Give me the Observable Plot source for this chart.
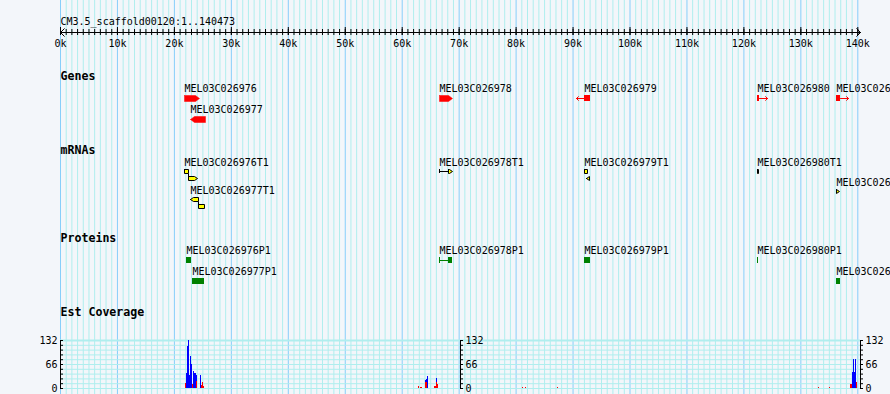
<!DOCTYPE html>
<html>
<head>
<meta charset="utf-8">
<script src="https://cdn.jsdelivr.net/npm/d3@7"></script>
<script src="https://cdn.jsdelivr.net/npm/@observablehq/plot@0.6"></script>
<style>
html, body { margin: 0; padding: 0; background: #F3F6FA; }
#chart { position: relative; width: 890px; height: 394px; overflow: hidden; background: #F3F6FA; }
#chart svg { position: absolute; left: 0; top: 0; }
</style>
</head>
<body>
<div id="chart"></div>
<script>
// ---------------- data ----------------
const seqName = "CM3.5_scaffold00120:1..140473";
const seqLength = 140473;
const rulerTicks = [0, 10000, 20000, 30000, 40000, 50000, 60000, 70000, 80000, 90000, 100000, 110000, 120000, 130000, 140000];
const rulerLabels = ["0k", "10k", "20k", "30k", "40k", "50k", "60k", "70k", "80k", "90k", "100k", "110k", "120k", "130k", "140k"];
const trackNames = ["Genes", "mRNAs", "Proteins", "Est Coverage"];

// Genes (last name is shown cut at the image edge)
const geneNames = ["MEL03C026976", "MEL03C026977", "MEL03C026978", "MEL03C026979", "MEL03C026980", "MEL03C026"];
const geneStart = [21773, 22827, 66549, 92009, 122386, 136258];
const geneEnd   = [24407, 25461, 68831, 93063, 122737, 136960];
const geneStrand = [1, -1, 1, -1, 1, 1];
const geneRow = [0, 1, 0, 0, 0, 0];

// mRNAs
const mrnaNames = ["MEL03C026976T1", "MEL03C026977T1", "MEL03C026978T1", "MEL03C026979T1", "MEL03C026980T1", "MEL03C026"];
const mrnaStart = [21773, 22827, 66549, 92009, 122386, 136258];
const mrnaStrand = [1, -1, 1, -1, 1, 1];
const mrnaRow = [0, 2, 0, 0, 0, 1];
const exonMrna  = [0, 0, 1, 1, 2, 3, 3, 4, 5];
const exonStart = [21773, 22476, 22827, 24232, 68129, 92009, 92360, 122386, 136258];
const exonEnd   = [22476, 24056, 24232, 25285, 68831, 92536, 92887, 122562, 136785];
const exonLevel = [0, 1, 0, 1, 0, 0, 1, 0, 0];
const exonArrow = [0, 1, 1, 0, 1, 0, 1, 0, 1];
const utrMrna = [2];
const utrStart = [66549];
const utrEnd = [68129];

// Proteins
const protNames = ["MEL03C026976P1", "MEL03C026977P1", "MEL03C026978P1", "MEL03C026979P1", "MEL03C026980P1", "MEL03C026"];
const protStart    = [22124, 23178, 66549, 92009, 122386, 136258];
const protBoxStart = [22124, 23178, 68129, 92009, 122386, 136258];
const protEnd      = [23002, 25285, 68831, 93063, 122562, 136960];
const protRow = [0, 1, 0, 0, 0, 1];

// Est coverage (bins)
const estBin = 176;
const estBinStart = [21949, 22124, 22300, 22476, 22651, 22827, 23002, 23178, 23353, 23529, 23705, 23880, 24583, 24758, 24934, 25109, 62861, 63212, 63388, 64090, 64266, 64441, 65671, 65846, 66022, 66197, 81123, 81649, 87268, 133097, 135029, 138716, 138892, 139067, 139243, 139418, 139594, 139770];
const estBlue = [0, 40, 116, 132, 36, 88, 66, 10, 46, 42, 42, 36, 36, 0, 0, 0, 0, 0, 0, 22, 25, 33, 0, 0, 28, 0, 0, 0, 0, 0, 0, 0, 0, 45, 80, 45, 80, 0];
const estRed  = [14, 0, 0, 0, 0, 0, 0, 12, 0, 0, 0, 18, 0, 8, 16, 5, 5, 3, 3, 16, 16, 0, 5, 5, 16, 10, 3, 3, 3, 3, 3, 11, 11, 0, 0, 0, 0, 16];
const covMax = 132;
const covLabels = [0, 66, 132];

// ---------------- layout & style ----------------
const W = 890, H = 394;
const xRange = [60, 860];
const bpPerPx = seqLength / (xRange[1] - xRange[0]);
const L = {
  titleY: 21, rulerY: 32, minorTick: [29, 35], majorTick: [27, 35], rulerLabelY: 43,
  trackLabelY: [76, 150, 238, 312]
};
const G = {labelY: [88, 109], dy: 7, h: 6, tip: 4, arrowPx: 8, minBodyPx: 8};
const M = {labelY: [162, 182, 190], dy: 7, levelDy: 7, h: 4, tip: 3};
const P = {labelY: [250, 271], dy: 7, h: 6};
const covRange = [388, 340];
const C = {
  bg: "#F3F6FA", minor: "#AFEEEE", major: "#87CEFA", red: "#FF0000",
  yellow: "#FFFF00", green: "#008000", blue: "#0000FF"
};
const font = "'DejaVu Sans Mono', monospace";

function boxPoly(s, e, top, h, strand, pointed, tipPx) {
  const tip = Math.min(tipPx * bpPerPx, (e - s));
  const bot = top + h, mid = top + h / 2;
  if (!pointed) return [[s, top], [e, top], [e, bot], [s, bot], [s, top]];
  if (strand > 0) return [[s, top], [e - tip, top], [e, mid], [e - tip, bot], [s, bot], [s, top]];
  return [[s, mid], [s + tip, top], [e, top], [e, bot], [s + tip, bot], [s, mid]];
}

// genes
const genes = geneNames.map((name, i) => {
  const labelY = G.labelY[geneRow[i]], top = labelY + G.dy;
  return {name, start: geneStart[i], end: geneEnd[i], strand: geneStrand[i], labelY, top, mid: top + G.h / 2, bot: top + G.h,
          px: (geneEnd[i] - geneStart[i]) / bpPerPx};
});
const bigGenes = genes.filter(g => g.px >= G.minBodyPx);
const smallGenes = genes.filter(g => g.px < G.minBodyPx);
const genePolys = bigGenes.flatMap(g => boxPoly(g.start, g.end, g.top, G.h, g.strand, true, G.tip).map(([x, y]) => ({id: g.name, x, y})));

// mRNAs
const mrnas = mrnaNames.map((name, i) => ({name, start: mrnaStart[i], strand: mrnaStrand[i], labelY: M.labelY[mrnaRow[i]]}));
const exons = exonMrna.map((m, i) => {
  const t = mrnas[m];
  const top = t.labelY + M.dy + exonLevel[i] * M.levelDy;
  return {m, id: i, start: exonStart[i], end: exonEnd[i], top, bot: top + M.h, strand: t.strand, pointed: exonArrow[i] === 1};
});
const exonPolys = exons.flatMap(e => boxPoly(e.start, e.end, e.top, M.h, e.strand, e.pointed, M.tip).map(([x, y]) => ({id: e.id, x, y})));
const connectors = [];
for (let i = 1; i < exons.length; i++) {
  if (exons[i].m === exons[i - 1].m && exons[i].start >= exons[i - 1].end) {
    connectors.push({x1: exons[i - 1].end, y1: exons[i - 1].bot, x2: exons[i].start, y2: exons[i].top});
  }
}
const utrs = utrMrna.map((m, i) => {
  const top = mrnas[m].labelY + M.dy;
  return {start: utrStart[i], end: utrEnd[i], top, bot: top + M.h, mid: top + M.h / 2};
});

// proteins
const prots = protNames.map((name, i) => {
  const labelY = P.labelY[protRow[i]], top = labelY + P.dy;
  return {name, start: protStart[i], boxStart: protBoxStart[i], end: protEnd[i], labelY, top, bot: top + P.h, mid: top + P.h / 2};
});
const protLines = prots.filter(p => p.boxStart > p.start);

// coverage
const est = estBinStart.map((s, i) => ({start: s, end: s + estBin, blue: estBlue[i], red: estRed[i]}));
const covGrid = d3.range(0, 11).map(k => k * covMax / 10);
const covAxes = [0, seqLength / 2, seqLength];
const covTicks = covAxes.flatMap((pos, a) => covGrid.map(v => ({pos, v, a})));
const covLabelRows = covAxes.flatMap((pos, a) => covLabels.map(v => ({pos, v, a})));

const minorGrid = d3.range(0, 140001, 1000).filter(d => d % 10000 !== 0);

// ---------------- main plot ----------------
const main = Plot.plot({
  width: W, height: H, margin: 0,
  x: {domain: [0, seqLength], range: xRange, axis: null},
  y: {type: "identity", axis: null},
  style: {background: C.bg, fontFamily: font, fontSize: "10px", color: "black"},
  marks: [
    Plot.ruleX(minorGrid, {x: d => d, stroke: C.minor, strokeWidth: 1}),
    Plot.ruleX(rulerTicks, {x: d => d, stroke: C.major, strokeWidth: 1}),
    // title
    Plot.text([seqName], {x: () => 0, y: () => L.titleY, text: d => d, textAnchor: "start", fill: "black"}),
    // ruler
    Plot.arrow([{a: seqLength / 2, b: 0}, {a: seqLength / 2, b: seqLength}],
      {x1: "a", x2: "b", y1: () => L.rulerY, y2: () => L.rulerY, stroke: "black", strokeWidth: 1, headAngle: 90, headLength: 8}),
    Plot.ruleX(d3.range(0, 140001, 1000), {x: d => d, y1: () => L.minorTick[0], y2: () => L.minorTick[1], stroke: "black"}),
    Plot.ruleX(rulerTicks, {x: d => d, y1: () => L.majorTick[0], y2: () => L.majorTick[1], stroke: "black"}),
    Plot.text(rulerTicks, {x: d => d, y: () => L.rulerLabelY, text: (d, i) => rulerLabels[i], fill: "black"}),
    // track labels
    Plot.text(trackNames, {x: () => 0, y: (d, i) => L.trackLabelY[i], text: d => d, textAnchor: "start", fontWeight: "bold", fontSize: 11.6, fill: "black"}),
    // genes
    Plot.line(genePolys, {x: "x", y: "y", z: "id", fill: C.red, stroke: C.red, strokeWidth: 0.5}),
    Plot.rect(smallGenes, {x1: "start", x2: "end", y1: "top", y2: "bot", fill: C.red}),
    Plot.arrow(smallGenes, {
      x1: g => g.strand > 0 ? g.end : g.start,
      x2: g => g.strand > 0 ? g.end + G.arrowPx * bpPerPx : g.start - G.arrowPx * bpPerPx,
      y1: "mid", y2: "mid", stroke: C.red, strokeWidth: 1, headAngle: 90, headLength: 6
    }),
    Plot.text(genes, {x: "start", y: "labelY", text: "name", textAnchor: "start", fill: "black"}),
    // mRNAs
    Plot.ruleY(utrs, {x1: "start", x2: "end", y: "mid", stroke: "black"}),
    Plot.ruleX(utrs, {x: "start", y1: "top", y2: "bot", stroke: "black"}),
    Plot.link(connectors, {x1: "x1", y1: "y1", x2: "x2", y2: "y2", stroke: "black", strokeWidth: 1}),
    Plot.line(exonPolys, {x: "x", y: "y", z: "id", fill: C.yellow, stroke: "black", strokeWidth: 1}),
    Plot.text(mrnas, {x: "start", y: "labelY", text: "name", textAnchor: "start", fill: "black"}),
    // proteins
    Plot.ruleY(protLines, {x1: "start", x2: "boxStart", y: "mid", stroke: C.green}),
    Plot.ruleX(protLines, {x: "start", y1: "top", y2: "bot", stroke: C.green}),
    Plot.rect(prots, {x1: "boxStart", x2: "end", y1: "top", y2: "bot", fill: C.green}),
    Plot.text(prots, {x: "start", y: "labelY", text: "name", textAnchor: "start", fill: "black"})
  ]
});

// ---------------- coverage plot ----------------
const cov = Plot.plot({
  width: W, height: H, margin: 0,
  x: {domain: [0, seqLength], range: xRange, axis: null},
  y: {domain: [0, covMax], range: covRange, axis: null},
  style: {background: "transparent", fontFamily: font, fontSize: "10px", color: "black"},
  marks: [
    Plot.ruleY(covGrid, {y: d => d, x1: () => 0, x2: () => seqLength, stroke: C.minor, strokeWidth: d => d === covMax ? 2 : 1}),
    Plot.rectY(est.filter(d => d.blue > 0), {x1: "start", x2: "end", y1: () => 0, y2: "blue", fill: C.blue, shapeRendering: "crispEdges"}),
    Plot.rectY(est.filter(d => d.red > 0), {x1: "start", x2: "end", y1: () => 0, y2: "red", fill: C.red, shapeRendering: "crispEdges"}),
    Plot.ruleX(covAxes, {x: d => d, y1: () => 0, y2: () => covMax, stroke: "black", strokeWidth: 1}),
    Plot.ruleY(covTicks, {y: "v", x1: "pos", x2: "pos", insetRight: -3, stroke: "black"}),
    Plot.text(covLabelRows.filter(d => d.a === 0), {x: "pos", y: "v", text: d => String(d.v), fill: "black", textAnchor: "end", dx: -3}),
    Plot.text(covLabelRows.filter(d => d.a !== 0), {x: "pos", y: "v", text: d => String(d.v), fill: "black", textAnchor: "start", dx: 5})
  ]
});

const chart = document.getElementById("chart");
chart.appendChild(main);
chart.appendChild(cov);
</script>
</body>
</html>
